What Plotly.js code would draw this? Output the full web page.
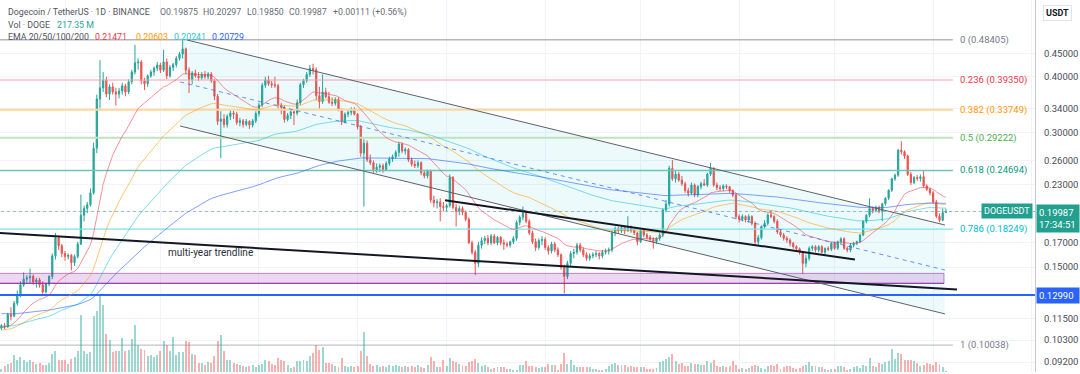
<!DOCTYPE html>
<html>
<head>
<meta charset="utf-8">
<script src="https://cdn.plot.ly/plotly-3.0.1.min.js"></script>
<style>
html,body{margin:0;padding:0;background:#ffffff;}
#chart{width:1080px;height:374px;}
</style>
</head>
<body>
<div id="chart"></div>
<script>
// ---------------- DATA (daily DOGE/USDT candles) ----------------
// day offsets are counted from 2024-11-01; first candle is offset -20 (2024-10-12)
const firstDayOffset = -20;

const openPrice = [
.1095,.1110,.1102,.1175,.1165,.1245,.1300,.1370,.1410,.1420,
.1430,.1390,.1405,.1370,.1320,.1375,.1430,.1590,.1745,.1675,
.1610,.1585,.1595,.1535,.1585,.1690,.1960,.2030,.2070,.2200,
.2770,.3570,.3780,.3930,.3660,.3800,.3700,.3660,.3720,.3820,
.3700,.3900,.4100,.4300,.4320,.3920,.3860,.4020,.4100,.4180,
.4250,.4140,.4320,.4020,.4200,.4260,.4400,.4500,.4620,.4140,
.3940,.4080,.4020,.3980,.4050,.4000,.4060,.3920,.3620,.3180,
.3220,.3130,.3260,.3320,.3300,.3160,.3190,.3130,.3180,.3120,
.3190,.3310,.3460,.3830,.3940,.3860,.3840,.3820,.3460,.3420,
.3210,.3280,.3340,.3320,.3500,.3840,.3920,.4050,.4180,.4150,
.3630,.3520,.3700,.3610,.3510,.3490,.3560,.3370,.3170,.3300,
.3330,.3370,.3300,.3090,.2700,.2840,.2610,.2570,.2480,.2510,
.2530,.2480,.2560,.2620,.2650,.2710,.2830,.2730,.2750,.2610,
.2550,.2530,.2570,.2440,.2400,.2460,.2120,.2090,.2100,.2050,
.2040,.2060,.2380,.2040,.2000,.2030,.1990,.1920,.1700,.1620,
.1530,.1680,.1720,.1740,.1700,.1760,.1700,.1750,.1700,.1690,
.1680,.1710,.1740,.1890,.1940,.1980,.1900,.1790,.1710,.1660,
.1720,.1730,.1660,.1630,.1690,.1640,.1600,.1500,.1430,.1530,
.1610,.1620,.1680,.1640,.1600,.1570,.1590,.1600,.1610,.1590,
.1620,.1630,.1640,.1790,.1830,.1810,.1840,.1810,.1840,.1810,
.1790,.1710,.1810,.1770,.1750,.1730,.1710,.1740,.1770,.2014,
.2077,.2497,.2365,.2423,.2350,.2306,.2226,.2196,.2291,.2176,
.2272,.2306,.2290,.2423,.2497,.2291,.2260,.2250,.2280,.2270,
.2226,.2176,.1947,.1920,.1947,.1913,.1947,.1880,.1710,.1746,
.1850,.1880,.1963,.1947,.1900,.1800,.1770,.1740,.1725,.1696,
.1667,.1650,.1620,.1530,.1570,.1653,.1667,.1639,.1667,.1620,
.1653,.1645,.1696,.1653,.1710,.1736,.1653,.1639,.1680,.1696,
.1710,.1770,.1900,.1960,.2030,.2010,.2040,.2000,.2080,.2140,
.2230,.2365,.2410,.2740,.2720,.2660,.2420,.2320,.2380,.2370,
.2390,.2280,.2240,.2200,.2100,.1950,.1910,.19875
];
const highPrice = [
.1118,.1125,.1185,.1220,.1260,.1330,.1395,.1460,.1440,.1490,
.1445,.1420,.1420,.1395,.1385,.1440,.1610,.1790,.1760,.1690,
.1630,.1610,.1605,.1600,.1710,.2180,.2060,.2100,.2250,.2850,
.3650,.4360,.4100,.4000,.3850,.3880,.3780,.3780,.3880,.3860,
.3950,.4150,.4720,.4400,.4360,.3980,.4050,.4150,.4220,.4320,
.4300,.4600,.4400,.4250,.4300,.4450,.4550,.4840,.4650,.4200,
.4120,.4150,.4100,.4100,.4120,.4100,.4100,.3960,.3660,.3350,
.3300,.3300,.3380,.3360,.3340,.3240,.3220,.3220,.3200,.3220,
.3350,.3500,.3880,.4000,.4020,.3920,.4000,.3860,.3500,.3450,
.3320,.3380,.3380,.3560,.3880,.3960,.4100,.4250,.4280,.4200,
.3800,.4050,.3780,.3700,.3600,.3600,.3600,.3400,.3330,.3380,
.3420,.3420,.3320,.3120,.2900,.2880,.2680,.2600,.2560,.2560,
.2560,.2590,.2650,.2680,.2740,.2860,.2850,.2780,.2770,.2640,
.2600,.2600,.2590,.2470,.2480,.2480,.2170,.2130,.2140,.2100,
.2080,.2420,.2400,.2080,.2060,.2050,.2010,.1940,.1720,.1640,
.1710,.1750,.1760,.1770,.1780,.1780,.1760,.1760,.1730,.1710,
.1720,.1760,.1910,.1960,.2050,.2000,.1920,.1810,.1740,.1740,
.1760,.1750,.1680,.1710,.1710,.1660,.1610,.1520,.1550,.1630,
.1650,.1700,.1700,.1660,.1620,.1610,.1620,.1630,.1620,.1640,
.1650,.1660,.1810,.1850,.1850,.1860,.1860,.1950,.1860,.1830,
.1800,.1830,.1830,.1790,.1770,.1750,.1750,.1790,.2030,.2120,
.2530,.2606,.2460,.2450,.2400,.2330,.2260,.2320,.2310,.2290,
.2330,.2360,.2440,.2567,.2510,.2320,.2290,.2300,.2300,.2280,
.2240,.2190,.1970,.1970,.1960,.1970,.1960,.1900,.1770,.1860,
.1910,.1980,.2014,.1960,.1920,.1820,.1790,.1760,.1740,.1710,
.1680,.1660,.1630,.1600,.1670,.1680,.1680,.1680,.1680,.1660,
.1670,.1710,.1710,.1720,.1750,.1750,.1670,.1700,.1710,.1720,
.1780,.1910,.1970,.2140,.2050,.2060,.2060,.2090,.2150,.2240,
.2380,.2430,.2760,.2870,.2740,.2680,.2450,.2400,.2410,.2420,
.2460,.2300,.2260,.2220,.2120,.1980,.2030,.20297
];
const lowPrice = [
.1085,.1090,.1098,.1140,.1160,.1230,.1285,.1355,.1385,.1380,
.1370,.1350,.1350,.1300,.1310,.1360,.1410,.1560,.1640,.1580,
.1550,.1560,.1475,.1510,.1570,.1680,.1900,.1980,.2050,.2180,
.2700,.3400,.3700,.3600,.3550,.3650,.3450,.3580,.3650,.3620,
.3660,.3850,.4050,.4150,.3850,.3740,.3800,.3980,.4020,.4120,
.4080,.4100,.3950,.3980,.4120,.4200,.4350,.4400,.4050,.3680,
.3850,.3980,.3920,.3940,.3960,.3950,.3880,.3550,.3120,.2630,
.3080,.3080,.3200,.3220,.3120,.3100,.3080,.3100,.3060,.3080,
.3150,.3260,.3420,.3780,.3820,.3780,.3780,.3400,.3300,.3160,
.3180,.3220,.3120,.3280,.3460,.3780,.3880,.4000,.4050,.3550,
.3400,.3480,.3580,.3480,.3440,.3450,.3350,.3120,.3150,.3250,
.3280,.3280,.3050,.2650,.2050,.2580,.2540,.2440,.2440,.2450,
.2440,.2460,.2530,.2580,.2620,.2650,.2700,.2680,.2580,.2520,
.2500,.2500,.2410,.2370,.2370,.2090,.2040,.2030,.1900,.2000,
.2000,.2040,.2020,.1850,.1960,.1960,.1900,.1690,.1600,.1440,
.1500,.1650,.1690,.1680,.1680,.1690,.1680,.1680,.1640,.1660,
.1660,.1690,.1720,.1860,.1910,.1880,.1770,.1690,.1630,.1640,
.1680,.1640,.1600,.1610,.1620,.1580,.1480,.1310,.1410,.1500,
.1570,.1600,.1620,.1580,.1550,.1550,.1570,.1580,.1560,.1570,
.1600,.1600,.1620,.1760,.1780,.1790,.1780,.1800,.1790,.1770,
.1680,.1700,.1750,.1730,.1710,.1650,.1690,.1720,.1750,.1990,
.2050,.2340,.2320,.2330,.2280,.2200,.2160,.2180,.2150,.2150,
.2240,.2280,.2270,.2400,.2270,.2230,.2220,.2220,.2240,.2200,
.2150,.1920,.1890,.1900,.1890,.1890,.1860,.1680,.1680,.1730,
.1830,.1860,.1930,.1880,.1780,.1750,.1720,.1700,.1670,.1650,
.1630,.1600,.1447,.1500,.1550,.1630,.1620,.1620,.1610,.1600,
.1630,.1630,.1640,.1640,.1690,.1640,.1620,.1620,.1660,.1680,
.1700,.1760,.1880,.1940,.1980,.1990,.1980,.1900,.2060,.2120,
.2210,.2340,.2390,.2680,.2620,.2400,.2290,.2300,.2340,.2330,
.2260,.2220,.2170,.2080,.1930,.1890,.1900,.1985
];
const closePrice = [
.1110,.1102,.1175,.1165,.1245,.1300,.1370,.1410,.1420,.1430,
.1390,.1405,.1370,.1320,.1375,.1430,.1590,.1745,.1675,.1610,
.1585,.1595,.1535,.1585,.1690,.1960,.2030,.2070,.2200,.2770,
.3570,.3780,.3930,.3660,.3800,.3700,.3660,.3720,.3820,.3700,
.3900,.4100,.4300,.4320,.3920,.3860,.4020,.4100,.4180,.4250,
.4140,.4320,.4020,.4200,.4260,.4400,.4500,.4620,.4140,.3940,
.4080,.4020,.3980,.4050,.4000,.4060,.3920,.3620,.3180,.3220,
.3130,.3260,.3320,.3300,.3160,.3190,.3130,.3180,.3120,.3190,
.3310,.3460,.3830,.3940,.3860,.3840,.3820,.3460,.3420,.3210,
.3280,.3340,.3320,.3500,.3840,.3920,.4050,.4180,.4150,.3630,
.3520,.3700,.3610,.3510,.3490,.3560,.3370,.3170,.3300,.3330,
.3370,.3300,.3090,.2700,.2840,.2610,.2570,.2480,.2510,.2530,
.2480,.2560,.2620,.2650,.2710,.2830,.2730,.2750,.2610,.2550,
.2530,.2570,.2440,.2400,.2460,.2120,.2090,.2100,.2050,.2040,
.2060,.2380,.2040,.2000,.2030,.1990,.1920,.1700,.1620,.1530,
.1680,.1720,.1740,.1700,.1760,.1700,.1750,.1700,.1690,.1680,
.1710,.1740,.1890,.1940,.1980,.1900,.1790,.1710,.1660,.1720,
.1730,.1660,.1630,.1690,.1640,.1600,.1500,.1430,.1530,.1610,
.1620,.1680,.1640,.1600,.1570,.1590,.1600,.1610,.1590,.1620,
.1630,.1640,.1790,.1830,.1810,.1840,.1810,.1840,.1810,.1790,
.1710,.1810,.1770,.1750,.1730,.1710,.1740,.1770,.2014,.2077,
.2497,.2365,.2423,.2350,.2306,.2226,.2196,.2291,.2176,.2272,
.2306,.2290,.2423,.2497,.2291,.2260,.2250,.2280,.2270,.2226,
.2176,.1947,.1920,.1947,.1913,.1947,.1880,.1710,.1746,.1850,
.1880,.1963,.1947,.1900,.1800,.1770,.1740,.1725,.1696,.1667,
.1650,.1620,.1530,.1570,.1653,.1667,.1639,.1667,.1620,.1653,
.1645,.1696,.1653,.1710,.1736,.1653,.1639,.1680,.1696,.1710,
.1770,.1900,.1960,.2030,.2010,.2040,.2000,.2080,.2140,.2230,
.2365,.2410,.2740,.2720,.2660,.2420,.2320,.2380,.2370,.2390,
.2280,.2240,.2200,.2100,.1950,.1910,.19875,.19987
];
// daily volume, millions of DOGE
const volumeM = [
750,1500,2000,2250,4250,3000,3750,3000,2500,3000,
2500,2000,2250,1750,1750,2250,4500,5250,3000,3000,
3000,2000,3250,3750,5250,14250,5250,4500,5000,14000,
15250,19000,16750,9500,8000,5000,5250,5250,8500,5250,
5500,8250,11750,6750,5750,5500,4000,4250,3750,4250,
5250,7750,6750,5250,8750,4250,5000,5000,7750,7500,
4500,4250,2250,2250,1750,2500,2250,4000,7750,9250,
5250,3000,3000,2250,2000,1750,1500,1250,1500,1750,
1250,1750,2000,3000,2750,2000,1750,3500,3000,2750,
1750,1000,1250,2750,2750,3000,2750,4000,4750,6750,
5500,6250,2250,2250,2000,1500,1250,3500,1500,1250,
1500,1250,1500,5250,10000,4000,2000,1500,1750,1250,
1500,1250,1750,1500,1750,1500,1250,1500,1250,1500,
1250,1750,1250,1000,1750,3750,2750,1250,1250,3000,
1500,3500,2750,2500,2000,1750,1500,2500,2750,3250,
2250,1500,1750,1250,750,1000,1250,1250,1250,750,
750,500,500,1750,1750,2750,1500,1500,1250,1000,
1250,1250,2000,1750,1750,500,2000,4750,2000,3000,
1750,1250,1250,1250,1250,1250,750,750,500,500,
750,1500,2000,2250,1750,1750,1750,1250,1500,1250,
1250,1250,1250,750,750,750,1000,2500,2750,3250,
3750,4500,2750,2000,2250,1500,1500,2250,2000,2000,
1750,1750,2750,2250,3000,1500,1250,1500,1250,1500,
2750,1750,750,1000,750,1000,1500,1750,1500,1000,
750,1500,1750,1500,2000,750,1250,1500,1500,1000,
750,1000,1500,1750,2500,1500,1500,1250,1250,750,
500,750,750,1500,1500,1250,500,750,1250,1500,
1000,1750,1500,3500,1500,1250,2250,2000,2500,2750,
5750,3250,4750,4500,3000,3000,3000,2750,2250,1500,
1750,2250,2000,1750,2500,2000,1250,217.35
];

// EMA periods and their values at the first visible candle
const emaPeriods = [20, 50, 100, 200];
const emaStartValues = [0.1100, 0.1085, 0.1105, 0.1180];
const emaLegendValues = ['0.21471', '0.20603', '0.20241', '0.20729'];

// Fibonacci retracement
const fibLevels = ['0', '0.236', '0.382', '0.5', '0.618', '0.786', '1'];
const fibPrices = [0.48405, 0.39350, 0.33749, 0.29222, 0.24694, 0.18249, 0.10038];

// price-scale ticks (0.13 and 0.20 sit under the price labels, so they carry no text)
const priceTicks = [0.092, 0.103, 0.115, 0.13, 0.15, 0.17, 0.20, 0.23, 0.26, 0.30, 0.34, 0.40, 0.45];
const hiddenTickLabels = [0.13, 0.20];

// header values
const headerOHLC = ['O0.19875', 'H0.20297', 'L0.19850', 'C0.19987', '+0.00111 (+0.56%)'];
const lastPrice = 0.19987;
const supportLevel = 0.12990;

// drawings: [dayOffset, price]
const channelUpper = [[38.4, 0.4836], [276.7, 0.1864]];
const channelLower = [[36.2, 0.3105], [276.7, 0.1179]];
const channelMid   = [[36.2, 0.3896], [276.7, 0.1478]];
const channelFill  = [[36.2, 0.4879], [276.7, 0.1864], [276.7, 0.1179], [36.2, 0.3105]];
const trendline2   = [[119.5, 0.2118], [248.4, 0.1560]];
const multiYear    = [[-22, 0.1792], [280.5, 0.1337]];
const zoneDays     = [-22, 276.4];
const zonePrices   = [0.1380, 0.1453];

// ---------------- GEOMETRY / HELPERS ----------------
const DAY = 86400000;
const T0 = Date.UTC(2024, 10, 1);
function dateAt(d) { return new Date(T0 + d * DAY).toISOString().slice(0, 19).replace('T', ' '); }
const dates = closePrice.map((_, i) => dateAt(firstDayOffset + i));

const PLOT_W = 1035, PLOT_H = 372;
const Y_LO = -1.05853, Y_HI = -0.22594;
const X_RANGE = [dateAt(-20.44), dateAt(305.03)];
const LEFT_DAY = -22, RIGHT_DAY = 310, FIB_END_DAY = 279.2;

function paperX(px) { return px / PLOT_W; }
function paperYpx(py) { return 1 - py / PLOT_H; }
function paperYprice(p) { return (Math.log10(p) - Y_LO) / (Y_HI - Y_LO); }

function emaSeries(vals, period, start) {
  const a = 2 / (period + 1);
  let e = start;
  return vals.map((v, i) => { if (i > 0) e = e + a * (v - e); return e; });
}

const FONT = 'Roboto, "Liberation Sans", Arial, sans-serif';
const traces = [];

function lineTrace(pts, color, width, dash) {
  return {
    type: 'scatter', mode: 'lines', hoverinfo: 'skip', showlegend: false,
    x: pts.map(p => dateAt(p[0])), y: pts.map(p => p[1]),
    line: { color: color, width: width, dash: dash || 'solid' }
  };
}

// channel fill
traces.push({
  type: 'scatter', mode: 'lines', hoverinfo: 'skip', showlegend: false,
  x: channelFill.concat([channelFill[0]]).map(p => dateAt(p[0])),
  y: channelFill.concat([channelFill[0]]).map(p => p[1]),
  fill: 'toself', fillcolor: 'rgba(0,188,212,0.07)', line: { width: 0, color: 'rgba(0,0,0,0)' }
});

// purple zone
traces.push({
  type: 'scatter', mode: 'lines', hoverinfo: 'skip', showlegend: false,
  x: [dateAt(zoneDays[0]), dateAt(zoneDays[1]), dateAt(zoneDays[1]), dateAt(zoneDays[0]), dateAt(zoneDays[0])],
  y: [zonePrices[1], zonePrices[1], zonePrices[0], zonePrices[0], zonePrices[1]],
  fill: 'toself', fillcolor: 'rgba(156,39,176,0.18)', line: { width: 1, color: 'rgba(156,39,176,0.55)' }
});
traces.push(lineTrace([[zoneDays[0], zonePrices[0]], [zoneDays[1], zonePrices[0]]], 'rgba(142,36,170,0.75)', 1.2));

// fib lines
const fibColors = ['#b2b5be', '#f7a1a8', '#ffd699', '#bfe2c1', '#6cc4b7', '#80deea', '#b2b5be'];
const fibTextColors = ['#787b86', '#f23645', '#ff9800', '#4caf50', '#089981', '#00bcd4', '#787b86'];
const fibWidths = [1.5, 1, 2, 2, 1.5, 1.2, 1];
fibPrices.forEach((p, i) => traces.push(lineTrace([[LEFT_DAY, p], [FIB_END_DAY, p]], fibColors[i], fibWidths[i])));

// support level
traces.push(lineTrace([[LEFT_DAY, supportLevel], [RIGHT_DAY, supportLevel]], '#2962ff', 2));

// volume
traces.push({
  type: 'bar', x: dates, y: volumeM, yaxis: 'y2', hoverinfo: 'skip', showlegend: false,
  width: DAY * 0.62,
  marker: { color: closePrice.map((c, i) => c >= openPrice[i] ? 'rgba(38,166,154,0.45)' : 'rgba(239,83,80,0.45)'), line: { width: 0 } }
});

// EMAs
const emaColors = ['rgba(242,54,69,0.55)', 'rgba(255,152,0,0.55)', 'rgba(0,188,212,0.5)', 'rgba(41,98,255,0.6)'];
emaPeriods.forEach((per, k) => {
  traces.push({
    type: 'scatter', mode: 'lines', hoverinfo: 'skip', showlegend: false,
    x: dates, y: emaSeries(closePrice, per, emaStartValues[k]),
    line: { color: emaColors[k], width: 1 }
  });
});

// price line (dotted)
traces.push(lineTrace([[LEFT_DAY, lastPrice], [RIGHT_DAY, lastPrice]], 'rgba(120,170,165,0.75)', 1, 'dot'));

// candles
traces.push({
  type: 'candlestick', x: dates, open: openPrice, high: highPrice, low: lowPrice, close: closePrice,
  hoverinfo: 'skip', showlegend: false, whiskerwidth: 0,
  increasing: { line: { color: '#26a69a', width: 1 }, fillcolor: '#26a69a' },
  decreasing: { line: { color: '#ef5350', width: 1 }, fillcolor: '#ef5350' }
});

// channel lines and trendlines (drawn on top)
traces.push(lineTrace(channelUpper, '#5d606b', 1));
traces.push(lineTrace(channelLower, '#5d606b', 1));
traces.push(lineTrace(channelMid, 'rgba(41,98,255,0.7)', 1, '4px,4px'));
traces.push(lineTrace(trendline2, '#131722', 2));
traces.push(lineTrace(multiYear, '#131722', 2));

// ---------------- ANNOTATIONS ----------------
const ann = [];
const HFS = 8.8;
function txt(px, py, text, color, size, opts) {
  ann.push(Object.assign({
    xref: 'paper', yref: 'paper', x: paperX(px), y: paperYpx(py), text: text,
    showarrow: false, xanchor: 'left', yanchor: 'middle',
    font: { family: FONT, size: size || HFS, color: color }
  }, opts || {}));
}
// header
txt(6, 12.5, 'Dogecoin / TetherUS · 1D · BINANCE', '#50535e', HFS);
const ohlcX = [158, 201, 245, 287, 331];
headerOHLC.forEach((t, i) => txt(ohlcX[i], 12.5, t, '#6a6d78', HFS));
txt(6, 25, 'Vol · DOGE', '#50535e', HFS);
txt(55, 25, '217.35 M', '#26a69a', HFS);
txt(6, 37, 'EMA 20/50/100/200', '#50535e', HFS);
const emaLegendX = [93, 134, 172, 210];
const emaLegendColors = ['#f23645', '#ff9800', '#26c6da', '#2962ff'];
emaLegendValues.forEach((v, i) => txt(emaLegendX[i], 37, v, emaLegendColors[i], HFS));

// fib labels
fibPrices.forEach((p, i) => {
  ann.push({
    xref: 'paper', yref: 'paper', x: paperX(958), y: paperYprice(p),
    text: fibLevels[i] + ' (' + p.toFixed(5) + ')', showarrow: false, xanchor: 'left', yanchor: 'middle',
    font: { family: FONT, size: 9.5, color: fibTextColors[i] }
  });
});

// trendline label
txt(166, 253, 'multi-year trendline', '#2a2e39', 10);

// price scale labels
ann.push({
  xref: 'paper', yref: 'paper', x: paperX(1033), y: paperYprice(lastPrice), xanchor: 'right', yanchor: 'middle',
  text: 'DOGEUSDT', showarrow: false, bgcolor: '#22a08f', borderpad: 2,
  font: { family: FONT, size: 9, color: '#ffffff' }
});
ann.push({
  xref: 'paper', yref: 'paper', x: paperX(1036), y: paperYpx(204), xanchor: 'left', yanchor: 'top',
  text: lastPrice.toFixed(5) + '<br>17:34:51', showarrow: false, bgcolor: '#22a08f', borderpad: 2, align: 'left',
  width: 38, font: { family: FONT, size: 9.5, color: '#ffffff' }
});
ann.push({
  xref: 'paper', yref: 'paper', x: paperX(1036), y: paperYprice(supportLevel), xanchor: 'left', yanchor: 'middle',
  text: supportLevel.toFixed(5), showarrow: false, bgcolor: '#2962ff', borderpad: 2, width: 38, align: 'left',
  font: { family: FONT, size: 9.5, color: '#ffffff' }
});
ann.push({
  xref: 'paper', yref: 'paper', x: paperX(1057), y: paperYpx(13), xanchor: 'center', yanchor: 'middle',
  text: '<b>USDT</b>', showarrow: false, bgcolor: '#ffffff', bordercolor: '#e0e3eb', borderwidth: 1, borderpad: 2,
  font: { family: FONT, size: 9, color: '#131722' }
});

// ---------------- LAYOUT ----------------
const layout = {
  width: 1080, height: 374,
  margin: { l: 0, r: 45, t: 0, b: 2, pad: 0 },
  paper_bgcolor: '#ffffff', plot_bgcolor: '#ffffff',
  showlegend: false, boxgap: 0.45, bargap: 0,
  xaxis: {
    type: 'date', range: X_RANGE, showticklabels: false, ticks: '',
    dtick: 'M1', tick0: '2024-11-01', showgrid: true, gridcolor: '#f0f3fa', gridwidth: 1,
    zeroline: false, showline: false, rangeslider: { visible: false }, fixedrange: true
  },
  yaxis: {
    type: 'log', side: 'right', range: [Y_LO, Y_HI],
    tickvals: priceTicks,
    ticktext: priceTicks.map(v => hiddenTickLabels.includes(v) ? '' : v.toFixed(5)),
    tickfont: { family: FONT, size: 9.5, color: '#4a4d57' }, ticks: '', ticklabelstandoff: 6,
    showgrid: true, gridcolor: '#f0f3fa', gridwidth: 1, zeroline: false,
    showline: true, linecolor: '#c5c8d0', linewidth: 1, fixedrange: true
  },
  yaxis2: {
    overlaying: 'y', range: [0, 93000], visible: false, fixedrange: true
  },
  annotations: ann,
  font: { family: FONT }
};

Plotly.newPlot('chart', traces, layout, { staticPlot: true, displayModeBar: false });
</script>
</body>
</html>
